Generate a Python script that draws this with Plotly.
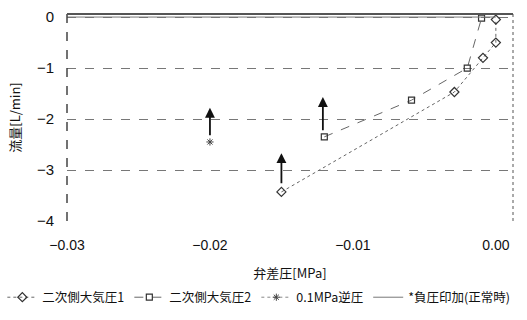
import plotly.graph_objects as go

# valve differential pressure [MPa] vs flow [L/min]
s1_x = [-0.015, -0.0029, -0.0009, 0.0, 0.0]
s1_y = [-3.43, -1.47, -0.80, -0.50, -0.05]

s2_x = [-0.012, -0.0059, -0.0020, -0.0010]
s2_y = [-2.35, -1.63, -1.00, -0.02]

s3_x = [-0.020]
s3_y = [-2.45]

s4_x = [-0.030, 0.0]
s4_y = [0.0, 0.0]

names = ["二次側大気圧1", "二次側大気圧2", "0.1MPa逆圧", "*負圧印加(正常時)"]

# upward arrows: (x, tail y, head y)
arrow_x = [-0.020, -0.0121, -0.015]
arrow_tail = [-2.35, -2.25, -3.29]
arrow_head = [-1.78, -1.57, -2.67]

x_ticks = [-0.03, -0.02, -0.01, 0.0]
y_ticks = [0, -1, -2, -3, -4]

num_font = "Liberation Sans Narrow, Liberation Sans, Arial"
jp_font = "Noto Sans CJK JP"

fig = go.Figure()
fig.add_trace(go.Scatter(x=s1_x, y=s1_y, name=names[0], mode="lines+markers",
                         line=dict(color="#666", width=1, dash="dot"),
                         marker=dict(symbol="diamond-open", size=7, color="#333", line=dict(width=1.2))))
fig.add_trace(go.Scatter(x=s2_x, y=s2_y, name=names[1], mode="lines+markers",
                         line=dict(color="#666", width=1, dash="dash"),
                         marker=dict(symbol="square-open", size=6, color="#333", line=dict(width=1.2))))
fig.add_trace(go.Scatter(x=s3_x, y=s3_y, name=names[2], mode="lines+markers",
                         line=dict(color="#888", width=1, dash="dot"),
                         marker=dict(symbol="asterisk-open", size=6, color="#444", line=dict(width=1))))
fig.add_trace(go.Scatter(x=s4_x, y=s4_y, name=names[3], mode="lines",
                         line=dict(color="#777", width=1)))

for ax_x, yt, yh in zip(arrow_x, arrow_tail, arrow_head):
    fig.add_annotation(x=ax_x, y=yh, ax=ax_x, ay=yt, xref="x", yref="y", axref="x", ayref="y",
                       showarrow=True, arrowhead=2, arrowsize=1.1, arrowwidth=1.8, arrowcolor="#111", text="")

# plot frame pieces: dashed left axis, top border, dotted right border
fig.add_shape(type="line", xref="paper", yref="paper", x0=0, x1=0, y0=0, y1=1,
              line=dict(color="#444", width=1.5, dash="dash"))
fig.add_shape(type="line", xref="paper", yref="paper", x0=0, x1=1, y0=1, y1=1,
              line=dict(color="#555", width=2))
fig.add_shape(type="line", xref="paper", yref="paper", x0=1, x1=1, y0=0, y1=1,
              line=dict(color="#555", width=1, dash="dot"))

fig.update_layout(
    width=527, height=320,
    margin=dict(l=67, r=14, t=14, b=99, autoexpand=False),
    paper_bgcolor="white", plot_bgcolor="white",
    showlegend=True,
    legend=dict(orientation="h", x=-0.145, xanchor="left", y=-0.37, yanchor="middle",
                font=dict(family=jp_font, size=12.5, color="#111"), itemwidth=30,
                tracegroupgap=0, bgcolor="rgba(0,0,0,0)"),
    xaxis=dict(range=[-0.030, 0.0012], tickvals=x_ticks, tickformat=".2f", automargin=False,
               showgrid=False, zeroline=False, showline=False, ticks="", ticklabelstandoff=14,
               tickfont=dict(family=num_font, size=14, color="#111"),
               title=dict(text="弁差圧[MPa]", font=dict(family=jp_font, size=13, color="#111"), standoff=16)),
    yaxis=dict(range=[-4.0, 0.06], tickvals=y_ticks, tickformat="d", automargin=False,
               showgrid=True, gridcolor="#777", griddash="dash", gridwidth=1,
               zeroline=False, showline=False, ticks="", ticklabelstandoff=12,
               tickfont=dict(family=num_font, size=15, color="#111"),
               title=dict(text="流量[L/min]", font=dict(family=jp_font, size=13, color="#111"), standoff=13)),
)

fig.write_html("out.html")
